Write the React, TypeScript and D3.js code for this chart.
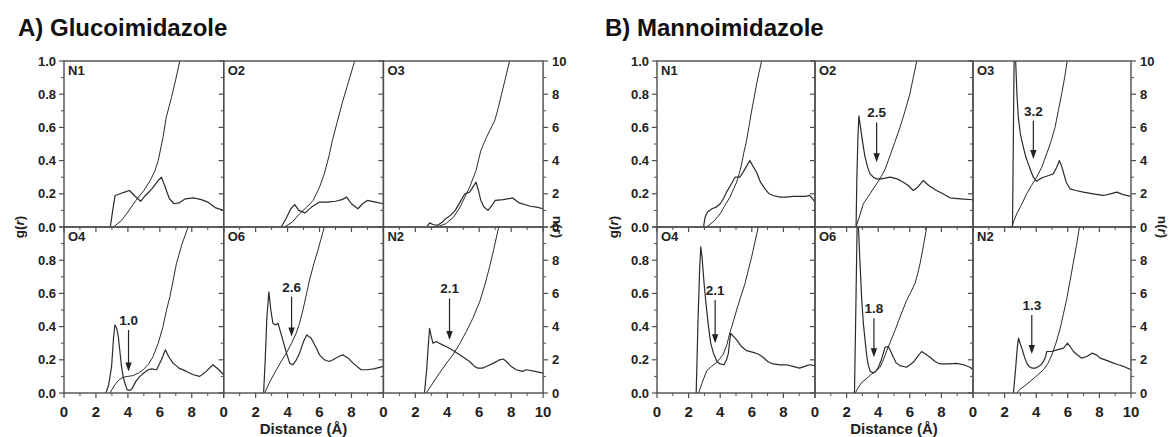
import * as d3 from 'd3'

type Pt = [number, number]

// A) Glucoimidazole: g(r) as [r, g], n(r) as [r, n]
const glcN1G: Pt[] = [[2.9,0],[3.05,0.1],[3.2,0.19],[3.5,0.2],[3.8,0.21],[4.1,0.22],[4.4,0.19],[4.8,0.155],[5.1,0.19],[5.5,0.23],[5.9,0.28],[6.1,0.3],[6.3,0.25],[6.6,0.17],[6.9,0.14],[7.2,0.145],[7.6,0.17],[8.1,0.175],[8.6,0.165],[9.0,0.15],[9.5,0.115],[10,0.1]]
const glcN1N: Pt[] = [[3.1,0],[3.6,0.4],[4.0,0.9],[4.5,1.6],[5.0,2.2],[5.4,2.8],[5.7,3.4],[5.9,4.0],[6.2,5.4],[6.4,6.6],[6.73,7.8],[7.0,8.9],[7.25,10]]
const glcO2G: Pt[] = [[3.6,0],[3.9,0.05],[4.2,0.11],[4.45,0.135],[4.7,0.1],[5.1,0.085],[5.5,0.12],[6.0,0.15],[6.5,0.15],[7.0,0.155],[7.4,0.165],[7.7,0.18],[8.0,0.14],[8.4,0.11],[8.7,0.14],[9.0,0.16],[9.5,0.15],[10,0.14]]
const glcO2N: Pt[] = [[3.8,0],[4.3,0.3],[4.75,0.8],[5.2,1.2],[5.6,1.6],[6.0,2.4],[6.3,3.2],[6.6,4.3],[6.8,5.2],[7.1,6.3],[7.46,7.6],[7.8,8.7],[8.2,10]]
const glcO3G: Pt[] = [[2.7,0],[2.9,0.025],[3.1,0.015],[3.4,0.01],[3.7,0.03],[3.9,0.05],[4.2,0.07],[4.5,0.1],[4.8,0.15],[5.1,0.2],[5.4,0.21],[5.6,0.24],[5.8,0.27],[5.95,0.22],[6.1,0.16],[6.3,0.12],[6.55,0.1],[6.8,0.13],[7.0,0.16],[7.5,0.165],[8.1,0.175],[8.5,0.145],[9.2,0.125],[9.6,0.12],[10,0.11]]
const glcO3N: Pt[] = [[3.1,0],[3.5,0.05],[3.9,0.2],[4.4,0.6],[4.8,1.2],[5.1,1.8],[5.4,2.4],[5.8,3.4],[6.1,4.6],[6.45,5.4],[6.97,6.4],[7.2,7.2],[7.4,8.0],[7.65,9.0],[7.9,10]]
const glcO4G: Pt[] = [[2.63,0],[2.8,0.05],[2.98,0.16],[3.1,0.33],[3.19,0.41],[3.3,0.39],[3.4,0.34],[3.5,0.25],[3.6,0.16],[3.7,0.1],[3.81,0.06],[3.95,0.02],[4.1,0.015],[4.25,0.025],[4.5,0.07],[4.75,0.1],[5.0,0.12],[5.27,0.14],[5.5,0.145],[5.8,0.14],[6.1,0.2],[6.35,0.26],[6.55,0.22],[6.83,0.18],[7.2,0.15],[7.67,0.13],[8.1,0.11],[8.5,0.1],[8.9,0.13],[9.33,0.17],[9.7,0.14],[10,0.11]]
const glcO4N: Pt[] = [[2.88,0],[3.0,0.2],[3.19,0.5],[3.45,0.8],[3.7,0.95],[4.0,1.0],[4.33,1.05],[4.65,1.2],[4.96,1.4],[5.3,1.75],[5.58,2.2],[5.9,3.0],[6.2,4.0],[6.42,5.0],[6.63,5.8],[6.84,6.8],[7.04,7.8],[7.4,9.0],[7.77,10]]
const glcO6G: Pt[] = [[2.5,0],[2.6,0.2],[2.7,0.45],[2.83,0.61],[2.95,0.5],[3.08,0.42],[3.25,0.41],[3.4,0.42],[3.55,0.37],[3.7,0.32],[3.9,0.25],[4.13,0.18],[4.33,0.17],[4.55,0.2],[4.75,0.24],[5.0,0.31],[5.2,0.35],[5.48,0.33],[5.75,0.28],[6.0,0.23],[6.3,0.2],[6.6,0.19],[6.85,0.2],[7.2,0.22],[7.46,0.23],[7.8,0.21],[8.1,0.18],[8.6,0.14],[9.0,0.14],[9.4,0.145],[10,0.16]]
const glcO6N: Pt[] = [[2.56,0],[2.9,0.7],[3.3,1.4],[3.6,1.9],[3.92,2.4],[4.25,3.0],[4.54,3.6],[4.75,4.2],[4.96,5.0],[5.17,5.9],[5.37,6.8],[5.65,7.8],[5.9,8.6],[6.1,9.3],[6.3,10]]
const glcN2G: Pt[] = [[2.57,0],[2.7,0.13],[2.8,0.27],[2.89,0.39],[3.0,0.34],[3.1,0.3],[3.3,0.31],[3.5,0.3],[3.7,0.29],[3.93,0.28],[4.3,0.26],[4.77,0.23],[5.1,0.21],[5.4,0.19],[5.7,0.16],[5.92,0.15],[6.2,0.15],[6.44,0.16],[6.9,0.18],[7.28,0.2],[7.5,0.205],[7.7,0.19],[8.0,0.16],[8.33,0.14],[8.7,0.13],[8.95,0.14],[9.5,0.13],[10,0.12]]
const glcN2N: Pt[] = [[2.68,0],[3.1,0.6],[3.51,1.2],[3.95,1.8],[4.35,2.3],[4.8,3.0],[5.19,3.7],[5.6,4.5],[6.03,5.5],[6.35,6.5],[6.65,7.6],[6.92,8.7],[7.22,10]]

// B) Mannoimidazole
const manN1G: Pt[] = [[2.94,0],[3.05,0.06],[3.2,0.09],[3.47,0.11],[3.75,0.12],[4.0,0.14],[4.2,0.17],[4.4,0.21],[4.65,0.25],[4.94,0.3],[5.25,0.3],[5.57,0.35],[5.88,0.4],[6.05,0.37],[6.3,0.33],[6.55,0.27],[6.83,0.23],[7.1,0.2],[7.35,0.19],[7.8,0.18],[8.19,0.18],[8.6,0.185],[9.03,0.185],[9.4,0.185],[9.66,0.19],[9.85,0.17],[10,0.15]]
const manN1N: Pt[] = [[3.15,0],[3.6,0.35],[4.0,0.8],[4.3,1.3],[4.62,1.8],[4.85,2.3],[5.04,2.7],[5.2,3.2],[5.36,3.8],[5.5,4.5],[5.67,5.2],[5.83,6.1],[5.99,7.0],[6.15,7.8],[6.3,8.6],[6.46,9.3],[6.62,10]]
const manO2G: Pt[] = [[2.6,0],[2.65,0.3],[2.72,0.55],[2.78,0.67],[2.88,0.6],[3.0,0.52],[3.15,0.43],[3.3,0.37],[3.48,0.32],[3.7,0.3],[3.9,0.29],[4.2,0.29],[4.75,0.3],[5.2,0.29],[5.59,0.27],[5.9,0.25],[6.22,0.22],[6.5,0.24],[6.85,0.28],[7.2,0.25],[7.69,0.22],[8.1,0.2],[8.54,0.176],[9.2,0.17],[10,0.164]]
const manO2N: Pt[] = [[2.6,0],[2.8,0.6],[3.06,1.4],[3.48,2.0],[3.9,2.6],[4.11,2.9],[4.45,3.5],[4.75,4.3],[5.05,5.1],[5.38,6.0],[5.7,7.0],[6.0,8.0],[6.22,9.0],[6.44,10]]
const manO3G: Pt[] = [[2.5,0],[2.6,1.0],[2.63,1.3],[2.7,1.0],[2.78,0.8],[2.87,0.66],[3.0,0.56],[3.19,0.48],[3.35,0.42],[3.5,0.38],[3.65,0.34],[3.82,0.3],[4.03,0.275],[4.25,0.29],[4.45,0.3],[4.8,0.31],[5.08,0.32],[5.3,0.36],[5.46,0.4],[5.6,0.37],[5.72,0.33],[5.9,0.27],[6.14,0.23],[6.5,0.22],[6.99,0.21],[7.6,0.2],[8.25,0.19],[8.7,0.2],[9.1,0.21],[9.5,0.195],[10,0.185]]
const manO3N: Pt[] = [[2.45,0],[2.6,0.4],[2.77,0.8],[3.1,1.4],[3.4,2.0],[3.7,2.5],[4.03,3.0],[4.35,3.6],[4.66,4.4],[4.95,5.2],[5.19,6.0],[5.4,7.0],[5.61,8.0],[5.8,9.0],[5.96,10]]
const manO4G: Pt[] = [[2.48,0],[2.6,0.45],[2.7,0.75],[2.77,0.88],[2.85,0.82],[2.98,0.66],[3.12,0.52],[3.26,0.4],[3.4,0.3],[3.57,0.24],[3.8,0.19],[3.99,0.175],[4.24,0.17],[4.4,0.2],[4.52,0.24],[4.6,0.31],[4.66,0.36],[4.85,0.34],[5.04,0.32],[5.35,0.28],[5.67,0.255],[6.09,0.245],[6.4,0.235],[6.72,0.215],[7.0,0.19],[7.35,0.175],[7.8,0.17],[8.19,0.17],[8.6,0.16],[9.03,0.15],[9.35,0.16],[9.66,0.17],[10,0.165]]
const manO4N: Pt[] = [[2.63,0],[2.85,0.6],[3.15,1.35],[3.45,1.6],[3.78,1.85],[4.0,2.1],[4.2,2.35],[4.42,2.9],[4.62,3.66],[4.83,4.3],[5.04,5.0],[5.3,5.8],[5.57,6.6],[5.78,7.4],[5.99,8.2],[6.2,9.1],[6.41,10]]
const manO6G: Pt[] = [[2.5,0],[2.6,0.6],[2.68,1.1],[2.75,1.0],[2.85,0.78],[2.96,0.557],[3.06,0.42],[3.17,0.316],[3.28,0.22],[3.38,0.165],[3.5,0.13],[3.69,0.122],[3.85,0.13],[4.01,0.155],[4.2,0.2],[4.43,0.275],[4.64,0.28],[4.8,0.25],[4.96,0.215],[5.15,0.18],[5.38,0.165],[5.8,0.155],[6.22,0.185],[6.5,0.22],[6.75,0.25],[7.0,0.235],[7.28,0.215],[7.6,0.19],[7.91,0.175],[8.4,0.175],[8.97,0.178],[9.4,0.17],[9.81,0.155],[10,0.14]]
const manO6N: Pt[] = [[2.55,0],[2.75,0.35],[2.96,0.64],[3.3,0.9],[3.59,1.15],[3.85,1.3],[4.11,1.55],[4.33,2.0],[4.54,2.55],[4.8,3.15],[5.06,3.76],[5.43,4.7],[5.8,5.58],[6.05,6.05],[6.33,6.6],[6.5,7.2],[6.65,7.8],[6.87,8.9],[7.07,10]]
const manN2G: Pt[] = [[2.56,0],[2.7,0.15],[2.8,0.27],[2.88,0.33],[2.98,0.3],[3.09,0.27],[3.25,0.22],[3.4,0.18],[3.55,0.16],[3.72,0.15],[3.95,0.15],[4.14,0.16],[4.3,0.17],[4.46,0.19],[4.6,0.22],[4.67,0.25],[4.99,0.25],[5.31,0.26],[5.73,0.27],[5.98,0.3],[6.15,0.28],[6.36,0.25],[6.6,0.23],[6.89,0.21],[7.2,0.22],[7.53,0.24],[7.8,0.23],[8.05,0.21],[8.5,0.195],[8.9,0.18],[9.2,0.17],[9.53,0.16],[10,0.14]]
const manN2N: Pt[] = [[2.77,0],[3.0,0.25],[3.3,0.45],[3.62,0.7],[4.05,1.05],[4.46,1.4],[4.75,1.8],[4.99,2.3],[5.25,3.0],[5.52,3.9],[5.73,4.8],[5.94,5.7],[6.15,6.8],[6.36,7.9],[6.55,8.9],[6.74,10]]

// arrows: r position, g at top and tip, n(r) value shown
type Arrow = { r: number; top: number; tip: number; label: string }
const glcArrows: Record<string, Arrow> = {
  O4: { r: 4.04, top: 0.38, tip: 0.13, label: '1.0' },
  O6: { r: 4.25, top: 0.58, tip: 0.34, label: '2.6' },
  N2: { r: 4.14, top: 0.57, tip: 0.32, label: '2.1' },
}
const manArrows: Record<string, Arrow> = {
  O2: { r: 3.9, top: 0.63, tip: 0.39, label: '2.5' },
  O3: { r: 3.82, top: 0.64, tip: 0.41, label: '3.2' },
  O4: { r: 3.68, top: 0.56, tip: 0.3, label: '2.1' },
  O6: { r: 3.73, top: 0.45, tip: 0.215, label: '1.8' },
  N2: { r: 3.72, top: 0.47, tip: 0.235, label: '1.3' },
}

const atomNames = ['N1', 'O2', 'O3', 'O4', 'O6', 'N2']
const glcG = [glcN1G, glcO2G, glcO3G, glcO4G, glcO6G, glcN2G]
const glcN = [glcN1N, glcO2N, glcO3N, glcO4N, glcO6N, glcN2N]
const manG = [manN1G, manO2G, manO3G, manO4G, manO6G, manN2G]
const manN = [manN1N, manO2N, manO3N, manO4N, manO6N, manN2N]

const xMajor = [0, 2, 4, 6, 8, 10]
const xMinor = [1, 3, 5, 7, 9]
const gMajor = [0, 0.2, 0.4, 0.6, 0.8, 1.0]
const gMinor = [0.1, 0.3, 0.5, 0.7, 0.9]
const nMajor = [0, 2, 4, 6, 8, 10]
const nMinor = [1, 3, 5, 7, 9]

const FONT = '"Liberation Sans", Arial, sans-serif'
const INK = '#2b2b2b'
const AXIS = '#4d4d4d'
const TOP = 61
const ROW_H = 166

function Panel({ id, x0, y0, w, name, g, n, arrow, col, row }: any) {
  const x = d3.scaleLinear().domain([0, 10]).range([x0, x0 + w])
  const y = d3.scaleLinear().domain([0, 1]).range([y0 + ROW_H, y0])
  const yn = d3.scaleLinear().domain([0, 10]).range([y0 + ROW_H, y0])
  const lineG = d3.line<Pt>().x((d) => x(d[0])).y((d) => y(d[1]))
  const lineN = d3.line<Pt>().x((d) => x(d[0])).y((d) => yn(d[1]))
  const yb = y0 + ROW_H
  const xr = x0 + w
  const last = col === 2
  const xLabels = last ? xMajor : xMajor.slice(0, 5)
  const gLabels = row === 0 ? gMajor : gMajor.slice(0, 5)
  const nLabels = row === 0 ? nMajor : nMajor.slice(0, 5)

  return (
    <g>
      <clipPath id={id}>
        <rect x={x0} y={y0} width={w} height={ROW_H} />
      </clipPath>
      <g clipPath={`url(#${id})`} fill="none" stroke={INK} strokeWidth={1} strokeLinejoin="round">
        <path d={lineN(n) || ''} />
        <path d={lineG(g) || ''} strokeWidth={1.2} />
      </g>
      <rect x={x0} y={y0} width={w} height={ROW_H} fill="none" stroke={AXIS} strokeWidth={1.4} />
      {/* left axis ticks, outward */}
      {gMajor.map((v) => (
        <line key={'gM' + v} x1={x0 - 5} x2={x0} y1={y(v)} y2={y(v)} stroke={AXIS} strokeWidth={1.2} />
      ))}
      {gMinor.map((v) => (
        <line key={'gm' + v} x1={x0 - 3} x2={x0} y1={y(v)} y2={y(v)} stroke={AXIS} strokeWidth={1} />
      ))}
      {/* bottom axis ticks, outward */}
      {xMajor.map((v) => (
        <line key={'xM' + v} x1={x(v)} x2={x(v)} y1={yb} y2={yb + 5} stroke={AXIS} strokeWidth={1.2} />
      ))}
      {xMinor.map((v) => (
        <line key={'xm' + v} x1={x(v)} x2={x(v)} y1={yb} y2={yb + 3} stroke={AXIS} strokeWidth={1} />
      ))}
      {last && nMajor.map((v) => (
        <line key={'nM' + v} x1={xr} x2={xr + 5} y1={yn(v)} y2={yn(v)} stroke={AXIS} strokeWidth={1.2} />
      ))}
      {last && nMinor.map((v) => (
        <line key={'nm' + v} x1={xr} x2={xr + 3} y1={yn(v)} y2={yn(v)} stroke={AXIS} strokeWidth={1} />
      ))}
      <g fontFamily={FONT} fontWeight="bold" fill="#222">
        {col === 0 && gLabels.map((v) => (
          <text key={'gl' + v} x={x0 - 8} y={y(v) + 4.6} fontSize={13} textAnchor="end">{v.toFixed(1)}</text>
        ))}
        {last && nLabels.map((v) => (
          <text key={'nl' + v} x={xr + 9} y={yn(v) + 4.6} fontSize={13}>{v}</text>
        ))}
        {row === 1 && xLabels.map((v) => (
          <text key={'xl' + v} x={x(v)} y={yb + 24} fontSize={15} textAnchor="middle">{v}</text>
        ))}
        <text x={x0 + 4} y={y0 + 14} fontSize={13}>{name}</text>
        {arrow && (
          <g>
            <text x={x(arrow.r)} y={y(arrow.top) - 5} fontSize={13.5} textAnchor="middle">{arrow.label}</text>
            <line x1={x(arrow.r)} x2={x(arrow.r)} y1={y(arrow.top)} y2={y(arrow.tip) - 7} stroke="#222" strokeWidth={1.2} />
            <path d={`M${x(arrow.r)},${y(arrow.tip)} l-3.2,-9 l6.4,0 z`} fill="#222" />
          </g>
        )}
      </g>
    </g>
  )
}

function Figure({ prefix, title, titleX, left, w, gs, ns, arrows, gLabelX, nLabelX }: any) {
  const xb = d3.scaleBand<number>().domain([0, 1, 2]).range([left, left + 3 * w])
  return (
    <g>
      <text x={titleX} y={36} fontFamily={FONT} fontWeight="bold" fontSize={24} fill="#111">{title}</text>
      {atomNames.map((name, i) => {
        const col = i % 3
        const row = Math.floor(i / 3)
        return (
          <Panel
            key={name}
            id={`${prefix}-${name}`}
            x0={xb(col)}
            y0={TOP + row * ROW_H}
            w={w}
            name={name}
            g={gs[i]}
            n={ns[i]}
            arrow={arrows[name]}
            col={col}
            row={row}
          />
        )
      })}
      <g fontFamily={FONT} fontWeight="bold" fontSize={13.5} fill="#222">
        <text transform={`translate(${gLabelX},${TOP + ROW_H}) rotate(-90)`} textAnchor="middle">
          g(<tspan fontStyle="italic">r</tspan>)
        </text>
        <text transform={`translate(${nLabelX},${TOP + ROW_H}) rotate(90)`} textAnchor="middle">
          n(<tspan fontStyle="italic">r</tspan>)
        </text>
        <text x={left + 1.5 * w} y={434} fontSize={15} textAnchor="middle">Distance (Å)</text>
      </g>
    </g>
  )
}

export default function App() {
  return (
    <svg
      width={1172}
      height={437}
      style={{ position: 'absolute', left: 0, top: 0, background: '#fff' }}
    >
      <Figure prefix="glc" title="A) Glucoimidazole" titleX={18} left={64} w={159.7}
        gs={glcG} ns={glcN} arrows={glcArrows} gLabelX={24} nLabelX={553} />
      <Figure prefix="man" title="B) Mannoimidazole" titleX={605} left={657} w={158}
        gs={manG} ns={manN} arrows={manArrows} gLabelX={618} nLabelX={1158} />
    </svg>
  )
}
